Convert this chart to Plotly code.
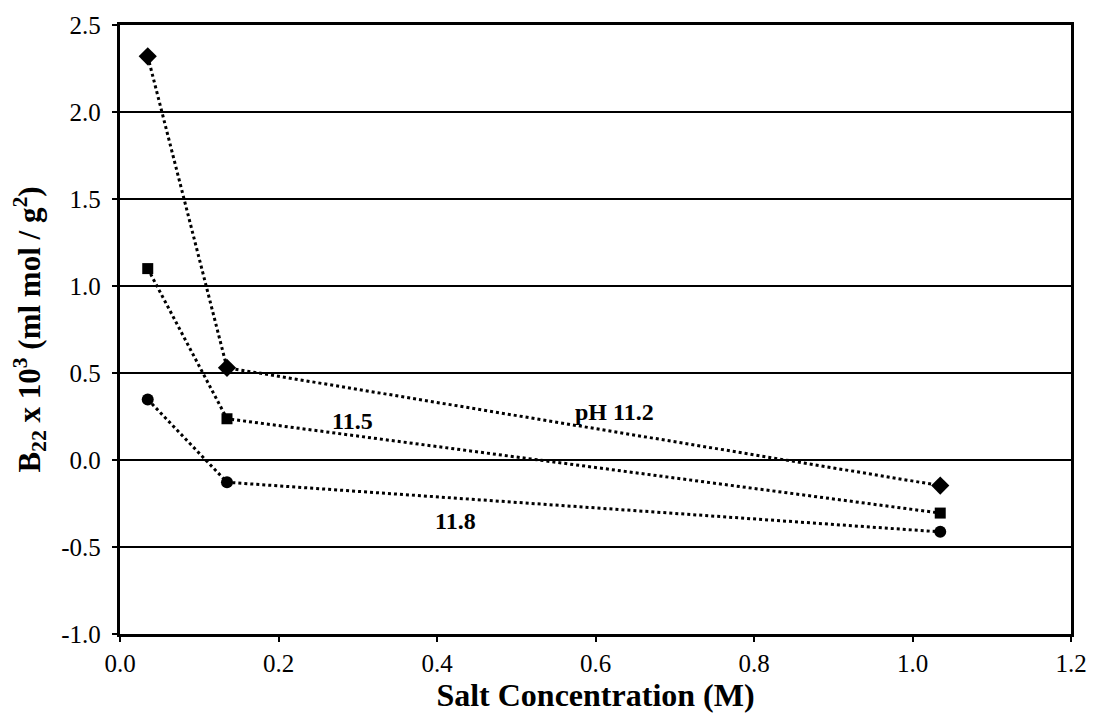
import plotly.graph_objects as go

salt_conc = [0.035, 0.135, 1.035]
b22_ph112 = [2.32, 0.53, -0.147]
b22_ph115 = [1.10, 0.237, -0.305]
b22_ph118 = [0.348, -0.128, -0.413]

label_texts = ["pH 11.2", "11.5", "11.8"]
label_x = [0.624, 0.294, 0.423]
label_y = [0.275, 0.224, -0.352]

x_ticks = [0.0, 0.2, 0.4, 0.6, 0.8, 1.0, 1.2]
y_ticks = [-1.0, -0.5, 0.0, 0.5, 1.0, 1.5, 2.0, 2.5]
x_ticklabels = ["0.0", "0.2", "0.4", "0.6", "0.8", "1.0", "1.2"]
y_ticklabels = ["-1.0", "-0.5", "0.0", "0.5", "1.0", "1.5", "2.0", "2.5"]

FONT = "Liberation Serif"

fig = go.Figure()
series = [
    (b22_ph112, "diamond", 14),
    (b22_ph115, "square", 11),
    (b22_ph118, "circle", 12),
]
for ys, sym, sz in series:
    fig.add_trace(go.Scatter(
        x=salt_conc, y=ys, mode="lines+markers",
        line=dict(color="black", width=3, dash="dot"),
        marker=dict(symbol=sym, size=sz, color="black"),
        showlegend=False,
    ))

for t, lx, ly in zip(label_texts, label_x, label_y):
    fig.add_annotation(x=lx, y=ly, text=f"<b>{t}</b>", showarrow=False,
                       font=dict(family=FONT, size=24, color="black"))

fig.update_layout(
    width=1099, height=719,
    margin=dict(l=120, r=22, t=22, b=85),
    paper_bgcolor="white", plot_bgcolor="white",
    font=dict(family=FONT, color="black", size=25),
    xaxis=dict(
        range=[0, 1.2], tickvals=x_ticks, ticktext=x_ticklabels,
        showgrid=False, zeroline=False,
        showline=True, linecolor="black", linewidth=3, mirror=True,
        ticks="outside", ticklen=5, tickwidth=1.5, tickcolor="black",
        tickfont=dict(family=FONT, size=25, color="black"),
        title=dict(text="<b>Salt Concentration (M)</b>", font=dict(family=FONT, size=32), standoff=4),
    ),
    yaxis=dict(
        range=[-1.0, 2.5], tickvals=y_ticks,
        ticktext=[s + "\u00a0" for s in y_ticklabels],
        showgrid=True, gridcolor="black", gridwidth=1.5, zeroline=False,
        showline=True, linecolor="black", linewidth=3, mirror=True,
        ticks="outside", ticklen=5, tickwidth=1.5, tickcolor="black",
        tickfont=dict(family=FONT, size=25, color="black"),
        title=dict(text="<b>B<sub>22</sub> x 10<sup>3</sup> (ml mol / g<sup>2</sup>)</b>",
                   font=dict(family=FONT, size=31), standoff=12),
    ),
)

fig.write_html("out.html")
